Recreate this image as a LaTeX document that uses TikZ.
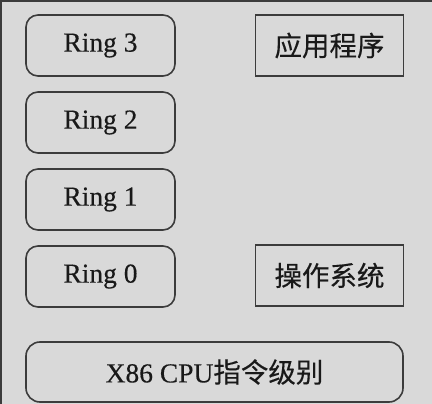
\documentclass[tikz,border=0pt]{standalone}
\usepackage{fontspec}
\setmainfont{Liberation Serif}
\newfontfamily\ringfont{Liberation Serif}[FakeBold=0.3]
\newfontfamily\cjk{Noto Sans CJK SC}[FakeBold=0.3]
\definecolor{bgc}{RGB}{217,217,217}
\definecolor{linec}{RGB}{60,60,60}
\definecolor{txtc}{RGB}{25,25,25}
\begin{document}
\begin{tikzpicture}[x=1pt,y=-1pt,
  ringbox/.style={draw=linec,line width=1.6pt,rounded corners=12pt,minimum width=149pt,minimum height=61pt,inner sep=0pt,text=txtc,font=\ringfont\fontsize{27.5}{30}\selectfont},
  sqbox/.style={draw=linec,line width=1.6pt,minimum width=148pt,minimum height=61pt,inner sep=0pt,text=txtc,font=\cjk\fontsize{27.5}{30}\selectfont}]
\useasboundingbox (0,0) rectangle (432,404);
\fill[bgc] (0,0) rectangle (432,404);
\draw[linec,line width=2pt] (1,404) -- (1,1) -- (432,1);
\node[ringbox] (r3) at (100.5,45.5) {Ring 3};
\node[ringbox] (r2) at (100.5,122.5) {Ring 2};
\node[ringbox] (r1) at (100.5,199.5) {Ring 1};
\node[ringbox] (r0) at (100.5,276.5) {Ring 0};
\node[sqbox] (app) at (329.5,45.5) {应用程序};
\node[sqbox] (os) at (329.5,275.5) {操作系统};
\node[ringbox,minimum width=377pt,minimum height=60pt,rounded corners=14pt] (cpu) at (214.5,372) {X86 CPU{\cjk 指令级别}};
\end{tikzpicture}
\end{document}
